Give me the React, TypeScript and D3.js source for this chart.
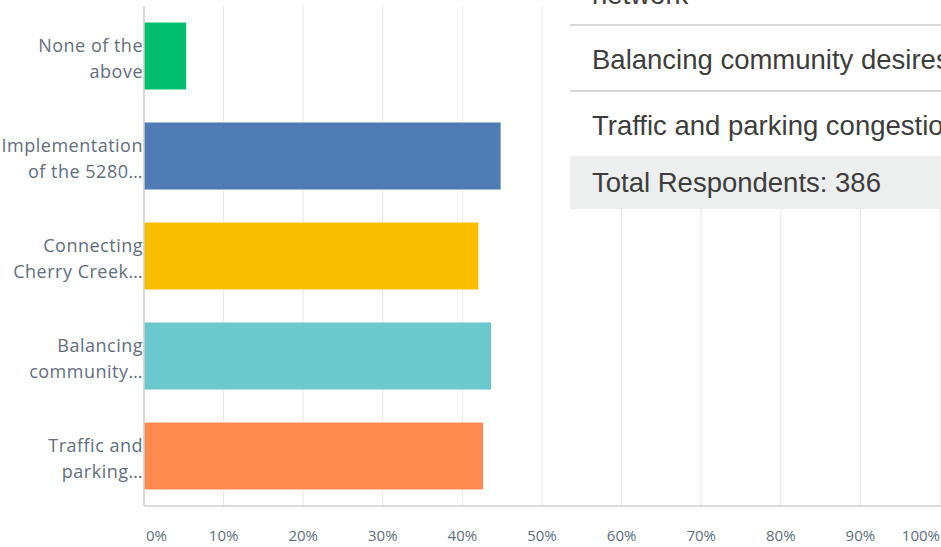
import * as d3 from 'd3';

// answer choices, top to bottom, as two wrapped lines each
const labelLines: string[][] = [
  ['None of the', 'above'],
  ['Implementation', 'of the 5280…'],
  ['Connecting', 'Cherry Creek…'],
  ['Balancing', 'community…'],
  ['Traffic and', 'parking…'],
];
const categories = ['None of the above', 'Implementation of the 5280', 'Connecting Cherry Creek', 'Balancing community', 'Traffic and parking'];
const percents = [5.3, 44.8, 42.0, 43.6, 42.6];
const barColors = ['#00bf6f', '#507cb6', '#f9be00', '#6bc8cd', '#ff8b4f'];
const ticks = [0, 10, 20, 30, 40, 50, 60, 70, 80, 90, 100];

// the answer table that sits on top of the chart
const tableRows = ['network', 'Balancing community desires', 'Traffic and parking congestion'];
const totalText = 'Total Respondents: 386';

const W = 941;
const H = 547;
const margin = { top: 6, right: 1, bottom: 41, left: 144 };

export default function App() {
  const x = d3.scaleLinear().domain([0, 100]).range([margin.left, W - margin.right]);
  const y = d3.scaleBand<string>().domain(categories).range([margin.top, H - margin.bottom]).paddingInner(0.33).paddingOuter(0.165);
  const axisY = H - margin.bottom;
  const labelColor = '#626e7e';

  const tableX = 570;
  const rowBottoms = [25, 91, 156];
  const totalBottom = 209;

  return (
    <div style={{ position: 'fixed', left: 0, top: 0 }}>
      <svg width={W} height={H} style={{ display: 'block', background: '#fff' }}>
        {/* gridlines */}
        {ticks.map(t => (
          <line key={'g' + t} x1={x(t)} x2={x(t)} y1={margin.top} y2={axisY} stroke="#e8e8e8" strokeWidth={1} />
        ))}
        {/* bars */}
        {categories.map((c, i) => (
          <rect key={c} x={x(0)} y={y(c)} width={x(percents[i]) - x(0)} height={y.bandwidth()} fill={barColors[i]} />
        ))}
        {/* axes */}
        <line x1={x(0)} x2={x(0)} y1={margin.top} y2={axisY} stroke="#d0d0d0" strokeWidth={1.5} />
        <line x1={x(0)} x2={W} y1={axisY} y2={axisY} stroke="#d0d0d0" strokeWidth={1.5} />
        {/* x tick labels */}
        {ticks.map((t, i) => (
          <text
            key={'t' + t}
            x={i === 0 ? x(t) + 2 : x(t)}
            y={537}
            dominantBaseline="middle"
            textAnchor={i === 0 ? 'start' : i === ticks.length - 1 ? 'end' : 'middle'}
            fill={labelColor}
            fontFamily="'Open Sans', sans-serif"
            fontSize={15}
          >
            {t + '%'}
          </text>
        ))}
        {/* category labels */}
        {categories.map((c, i) => {
          const cy = (y(c) as number) + y.bandwidth() / 2;
          return (
            <text key={'l' + c} textAnchor="end" fill={labelColor} fontFamily="'Open Sans', sans-serif" fontSize={18} letterSpacing={0.5}>
              <tspan x={143} y={cy - 4.5}>{labelLines[i][0]}</tspan>
              <tspan x={143} y={cy + 21.5}>{labelLines[i][1]}</tspan>
            </text>
          );
        })}
        {/* answer table overlay */}
        <rect x={tableX} y={0} width={W - tableX} height={totalBottom} fill="#fff" />
        <rect x={tableX} y={rowBottoms[2]} width={W - tableX} height={totalBottom - rowBottoms[2]} fill="#edeeee" />
        {rowBottoms.slice(0, 2).map(b => (
          <line key={'r' + b} x1={tableX} x2={W} y1={b} y2={b} stroke="#d9d9d9" strokeWidth={2} />
        ))}
        {tableRows.map((r, i) => (
          <text key={r} x={592} y={i === 0 ? 4 : rowBottoms[i - 1] + 44} fill="#3d3d3d" fontFamily="'Liberation Sans', Arial, sans-serif" fontSize={27.5}>
            {r}
          </text>
        ))}
        <text x={592} y={192} fill="#3d3d3d" fontFamily="'Liberation Sans', Arial, sans-serif" fontSize={27.5}>
          {totalText}
        </text>
      </svg>
    </div>
  );
}
